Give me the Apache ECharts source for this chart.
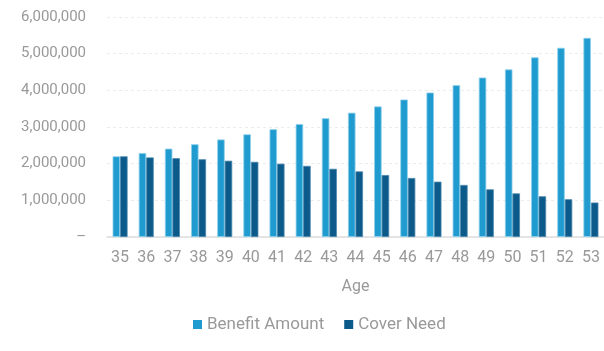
<!DOCTYPE html>
<html>
<head>
<meta charset="utf-8">
<script src="https://cdn.jsdelivr.net/npm/echarts@6/dist/echarts.min.js"></script>
<style>
  html, body { margin: 0; padding: 0; background: #fff; }
  #chart { width: 604px; height: 351px; }
</style>
</head>
<body>
<div id="chart"></div>
<script>
const ages = ['35','36','37','38','39','40','41','42','43','44','45','46','47','48','49','50','51','52','53'];
const benefitAmount = [2200000, 2290000, 2410000, 2530000, 2660000, 2800000, 2940000, 3080000, 3240000, 3390000,
  3560000, 3750000, 3940000, 4140000, 4350000, 4570000, 4900000, 5160000, 5430000];
const coverNeed = [2200000, 2170000, 2150000, 2120000, 2080000, 2050000, 2000000, 1940000, 1860000, 1790000,
  1690000, 1610000, 1510000, 1420000, 1300000, 1190000, 1110000, 1030000, 940000];

const textColor = '#999';
const font = 'Roboto';

const chart = echarts.init(document.getElementById('chart'), null, { renderer: 'canvas' });

const fmt = (v) => v === 0 ? '–' : v.toLocaleString('en-US');

chart.setOption({
  animation: false,
  grid: { left: 107, right: 0, top: 17, bottom: 114 },
  legend: {
    bottom: 13,
    left: 188,
    itemWidth: 9,
    itemHeight: 9,
    itemGap: 20,
    icon: 'rect',
    itemStyle: { borderWidth: 0 },
    textStyle: { color: textColor, fontSize: 17, fontFamily: font },
    data: ['Benefit Amount', 'Cover Need']
  },
  xAxis: {
    type: 'category',
    data: ages,
    name: 'Age',
    nameLocation: 'middle',
    nameGap: 42,
    nameTextStyle: { color: textColor, fontSize: 16, fontFamily: font },
    axisLine: { lineStyle: { color: '#ddd', width: 1.5 } },
    axisTick: { show: false },
    axisLabel: { color: textColor, fontSize: 16, fontFamily: font, margin: 13 }
  },
  yAxis: {
    type: 'value',
    min: 0,
    max: 6000000,
    interval: 1000000,
    axisLine: { show: false },
    axisTick: { show: false },
    splitLine: { lineStyle: { color: '#ececec', type: [3, 3] } },
    axisLabel: { color: textColor, fontSize: 15, fontFamily: font, margin: 21, formatter: fmt }
  },
  series: [
    {
      name: 'Benefit Amount',
      type: 'bar',
      data: benefitAmount,
      barWidth: 7.5,
      barGap: '0%',
      itemStyle: { color: '#1f9bcf', borderColor: '#8fd0ec', borderWidth: 0.8 }
    },
    {
      name: 'Cover Need',
      type: 'bar',
      data: coverNeed,
      barWidth: 7.5,
      itemStyle: { color: '#0b5a8a', borderColor: '#4a86ad', borderWidth: 0.8 }
    }
  ]
});
</script>
</body>
</html>
